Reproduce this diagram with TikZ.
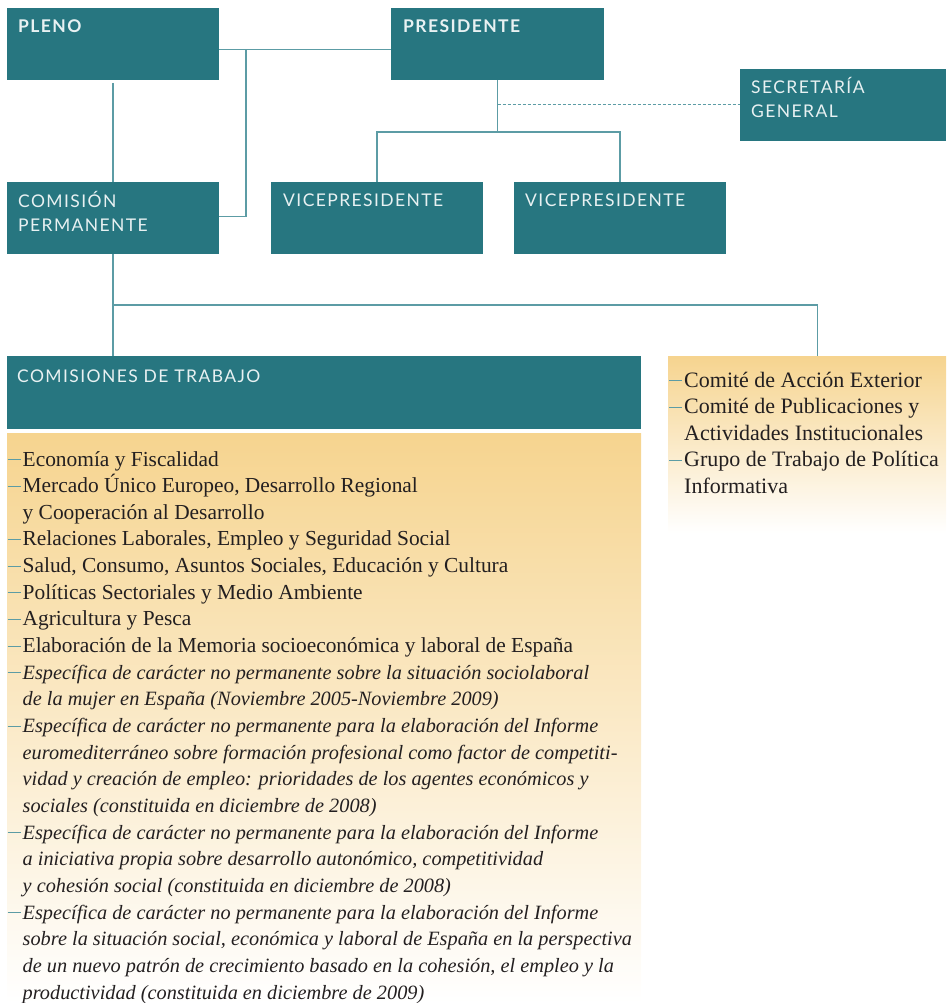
\documentclass[tikz,border=0pt]{standalone}
\usepackage{fontspec}
\setmainfont{Liberation Serif}
\newfontfamily\hdrfont[LetterSpace=8]{Lato}

\definecolor{boxteal}{HTML}{277680}
\definecolor{lineteal}{HTML}{5C9CA5}
\definecolor{listorange}{HTML}{F6D48F}
\definecolor{boxtext}{HTML}{E8F1F2}
\definecolor{listink}{HTML}{231F20}

\newcommand{\itemdash}{\textcolor{lineteal}{\rule[6pt]{13pt}{0.8pt}}\hspace{2pt}}
\newcommand{\itemgap}{\hspace*{15pt}}
\newcommand{\itline}[1]{{\fontsize{20.3}{26.65}\selectfont\itshape #1}}

\begin{document}
\begin{tikzpicture}[x=1pt, y=-1pt,
  orgbox/.style={fill=boxteal, anchor=north west, inner sep=0pt, outer sep=0pt,
    minimum width=212pt, minimum height=72pt},
  boxlabel/.style={anchor=base west, inner sep=0pt, text=boxtext, align=left,
    font=\hdrfont\fontsize{17.5}{24}\selectfont},
  boldlabel/.style={boxlabel, font=\hdrfont\bfseries\fontsize{17.5}{24}\selectfont},
  listbox/.style={anchor=north west, inner sep=0pt, outer sep=0pt,
    top color=listorange, bottom color=white},
  listtext/.style={anchor=base west, inner sep=0pt, align=left, text=listink,
    font=\fontsize{21.4}{26.65}\selectfont},
  link/.style={draw=lineteal, line width=1.3pt}]

  \useasboundingbox (0,0) rectangle (946,1003);

  % top level
  \node[orgbox] (pleno) at (7, 8) {};
  \node[boldlabel] at (18, 33) {PLENO};

  \node[orgbox, minimum width=213pt] (pres) at (391, 8) {};
  \node[boldlabel] at (403, 33) {PRESIDENTE};

  \node[orgbox, minimum width=206pt] (secr) at (740, 69) {};
  \node[boxlabel] at (751, 118) {SECRETARÍA\\GENERAL};

  % second level
  \node[orgbox] (comper) at (7, 182) {};
  \node[boxlabel] at (18, 231) {COMISIÓN\\PERMANENTE};

  \node[orgbox] (vice1) at (271, 182) {};
  \node[boxlabel] at (283, 207) {VICEPRESIDENTE};

  \node[orgbox] (vice2) at (514, 182) {};
  \node[boxlabel] at (525, 207) {VICEPRESIDENTE};

  % working commissions
  \node[orgbox, minimum width=634pt, minimum height=73pt] (comtr) at (7, 356) {};
  \node[boxlabel] at (17, 382) {COMISIONES DE TRABAJO};

  % (base of a multi-line node = baseline of its last line)
  \node[listbox, minimum width=634pt, minimum height=570pt] (comlist) at (7, 433) {};
  \node[listtext] at (7.5, 999) {%
    \itemdash Economía y Fiscalidad\\
    \itemdash Mercado Único Europeo, Desarrollo Regional\\
    \itemgap y Cooperación al Desarrollo\\
    \itemdash Relaciones Laborales, Empleo y Seguridad Social\\
    \itemdash Salud, Consumo, Asuntos Sociales, Educación y Cultura\\
    \itemdash Políticas Sectoriales y Medio Ambiente\\
    \itemdash Agricultura y Pesca\\
    \itemdash Elaboración de la Memoria socioeconómica y laboral de España\\
    \itemdash \itline{Específica de carácter no permanente sobre la situación sociolaboral}\\
    \itemgap \itline{de la mujer en España (Noviembre 2005-Noviembre 2009)}\\
    \itemdash \itline{Específica de carácter no permanente para la elaboración del Informe}\\
    \itemgap \itline{euromediterráneo sobre formación profesional como factor de competiti-}\\
    \itemgap \itline{vidad y creación de empleo: prioridades de los agentes económicos y}\\
    \itemgap \itline{sociales (constituida en diciembre de 2008)}\\
    \itemdash \itline{Específica de carácter no permanente para la elaboración del Informe}\\
    \itemgap \itline{a iniciativa propia sobre desarrollo autonómico, competitividad}\\
    \itemgap \itline{y cohesión social (constituida en diciembre de 2008)}\\
    \itemdash \itline{Específica de carácter no permanente para la elaboración del Informe}\\
    \itemgap \itline{sobre la situación social, económica y laboral de España en la perspectiva}\\
    \itemgap \itline{de un nuevo patrón de crecimiento basado en la cohesión, el empleo y la}\\
    \itemgap \itline{productividad (constituida en diciembre de 2009)}};

  % committees
  \node[listbox, minimum width=278pt, minimum height=177pt] (comite) at (668, 356) {};
  \node[listtext, font=\fontsize{22}{26.65}\selectfont] at (669, 493.6) {%
    \itemdash Comité de Acción Exterior\\
    \itemdash Comité de Publicaciones y\\
    \itemgap Actividades Institucionales\\
    \itemdash Grupo de Trabajo de Política\\
    \itemgap Informativa};

  % connectors
  \coordinate (pleno-jn) at (246, 49.5);
  \coordinate (vice-bar) at (0, 132);
  \coordinate (perm-bar) at (0, 305);

  \draw[link] ([yshift=-5.5pt]pleno.east) -- ([yshift=-5.5pt]pres.west);
  \draw[link] (pleno-jn) |- ([yshift=1.5pt]comper.east);
  \draw[link] ([yshift=-3pt]pleno.south) -- (comper.north);

  \draw[link] (pres.south) -- (pres.south |- vice-bar);
  \draw[link] (vice1.north) -- (vice1.north |- vice-bar) -- (vice2.north |- vice-bar) -- (vice2.north);
  \draw[link, line width=1pt, dash pattern=on 3pt off 2pt] (pres.south |- secr.west) -- (secr.west);

  \draw[link] (comper.south) -- (comper.south |- comtr.north);
  \draw[link] (comper.south |- perm-bar) -| ([xshift=10.5pt]comite.north);

\end{tikzpicture}
\end{document}
